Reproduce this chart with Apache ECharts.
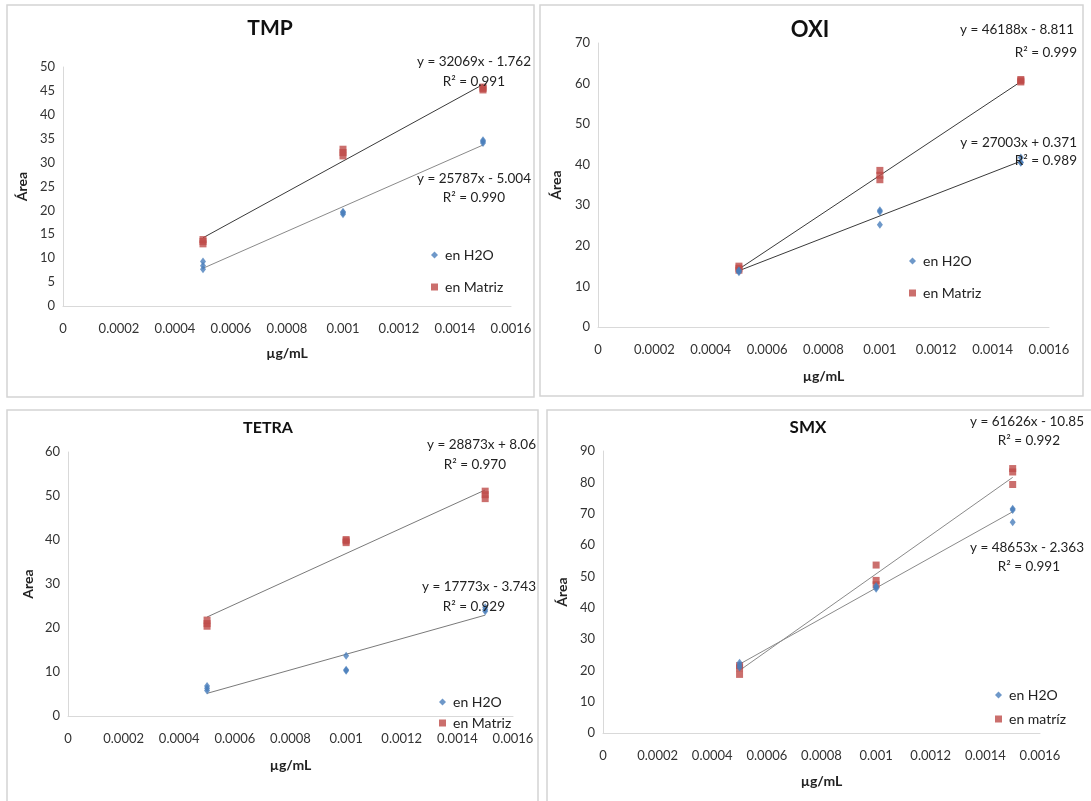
<!DOCTYPE html>
<html>
<head>
<meta charset="utf-8">
<script src="https://cdn.jsdelivr.net/npm/echarts@6/dist/echarts.min.js"></script>
<style>
html,body{margin:0;padding:0;background:#fff;}
#chart{width:1091px;height:801px;}
</style>
</head>
<body>
<div id="chart"></div>
<script>
// ---- DATA ----
const xTickValues = [0, 0.0002, 0.0004, 0.0006, 0.0008, 0.001, 0.0012, 0.0014, 0.0016];
const conc = [0.0005, 0.0005, 0.0005, 0.001, 0.001, 0.001, 0.0015, 0.0015, 0.0015];
const panelTitles = ['TMP', 'OXI', 'TETRA', 'SMX'];
const yAxisTitles = ['Área', 'Área', 'Area', 'Área'];
const xAxisTitle = 'µg/mL';
const legendH2O = 'en H2O';
const legendMatriz = ['en Matriz', 'en Matriz', 'en Matriz', 'en matríz'];
const yMax = [50, 70, 60, 90];
const yInterval = [5, 10, 10, 10];

const tmpH2O    = [9.3, 8.4, 7.7, 19.2, 19.5, 19.7, 34.1, 34.4, 34.7];
const tmpMatriz = [13.0, 13.5, 13.9, 31.4, 32.1, 32.8, 45.2, 45.5, 45.8];
const oxiH2O    = [13.5, 13.8, 14.0, 28.4, 28.8, 25.2, 40.5, 40.6, 41.8];
const oxiMatriz = [14.0, 14.5, 15.0, 36.3, 37.4, 38.6, 60.4, 60.7, 61.0];
const tetraH2O    = [5.8, 6.3, 6.8, 13.7, 10.3, 10.5, 23.8, 24.2, 24.7];
const tetraMatriz = [20.4, 21.0, 21.8, 39.4, 39.8, 40.1, 49.4, 50.3, 51.1];
const smxH2O    = [22.4, 21.6, 20.9, 46.0, 46.5, 46.9, 71.6, 71.2, 67.3];
const smxMatriz = [21.5, 20.8, 18.7, 53.6, 48.7, 47.3, 84.4, 83.3, 79.3];

// trendline coefficients [slope, intercept] and R²
const fitH2O    = [[25787, -5.004], [27003, 0.371], [17773, -3.743], [48653, -2.363]];
const fitMatriz = [[32069, -1.762], [46188, -8.811], [28873, 8.06], [61626, -10.85]];
const r2H2O    = ['0.990', '0.989', '0.929', '0.991'];
const r2Matriz = ['0.991', '0.999', '0.970', '0.992'];
const eqH2O    = ['y = 25787x - 5.004', 'y = 27003x + 0.371', 'y = 17773x - 3.743', 'y = 48653x - 2.363'];
const eqMatriz = ['y = 32069x - 1.762', 'y = 46188x - 8.811', 'y = 28873x + 8.06', 'y = 61626x - 10.85'];
const trendRange = [0.0005, 0.0015];

// ---- LAYOUT ----
const H2O_COLOR = '#4A7EBB';
const MAT_COLOR = '#BE4B48';
const FONT = 'Lato, "Liberation Sans", sans-serif';
const grids = [
  {left: 63, top: 67, width: 448, height: 239},
  {left: 598, top: 43, width: 451, height: 284},
  {left: 68, top: 452, width: 445, height: 264},
  {left: 603, top: 451, width: 437, height: 282}
];
const yNameGap = [34, 35, 33, 34];
const xNameGap = [40, 42, 42, 41];
const trendColors = [['#8a8a8a', '#3a3a3a'], ['#3a3a3a', '#3a3a3a'], ['#7a7a7a', '#7a7a7a'], ['#8a8a8a', '#8a8a8a']];
const borders = [
  {x: 7, y: 5, width: 527, height: 392},
  {x: 540, y: 5, width: 543, height: 391},
  {x: 7, y: 410, width: 531, height: 400},
  {x: 547, y: 410, width: 550, height: 400}
];
const titlePos = [[270, 28, 21], [810, 30, 22], [268, 428, 16], [808, 428, 17]];
const legendPos = [[426, 243, 18], [904, 249, 18], [434, 690, 7], [990, 683, 10]];
const eqPos = [
  // [eqMatriz right x, y, R2 right x, y, eqH2O right x, y, R2 right x, y]
  [531, 62, 505, 82, 531, 179, 505, 198],
  [1074, 30, 1077, 53, 1077, 143, 1077, 161],
  [536, 445, 506, 465, 536, 587, 505, 607],
  [1084, 422, 1060, 441, 1084, 548, 1060, 567]
];

const h2oSets = [tmpH2O, oxiH2O, tetraH2O, smxH2O];
const matSets = [tmpMatriz, oxiMatriz, tetraMatriz, smxMatriz];

const option = {
  backgroundColor: '#fff',
  animation: false,
  grid: grids,
  xAxis: [], yAxis: [], series: [], legend: [], graphic: []
};

function fmt(v) { return String(parseFloat(Number(v).toFixed(4))); }

for (let i = 0; i < 4; i++) {
  option.xAxis.push({
    type: 'value', gridIndex: i, min: 0, max: 0.0016, interval: 0.0002,
    axisLine: {show: true, onZero: false, lineStyle: {color: '#D9D9D9', width: 1}},
    axisTick: {show: false}, splitLine: {show: false},
    axisLabel: {margin: 16, color: '#333', fontSize: 13, fontFamily: FONT, formatter: fmt},
    name: xAxisTitle, nameLocation: 'middle', nameGap: xNameGap[i],
    nameTextStyle: {fontWeight: 'bold', fontSize: 14, color: '#222', fontFamily: FONT}
  });
  option.yAxis.push({
    type: 'value', gridIndex: i, min: 0, max: yMax[i], interval: yInterval[i],
    axisLine: {show: true, lineStyle: {color: '#D9D9D9', width: 1}},
    axisTick: {show: false}, splitLine: {show: false},
    axisLabel: {margin: 8, color: '#333', fontSize: 13, fontFamily: FONT},
    name: yAxisTitles[i], nameLocation: 'middle', nameGap: yNameGap[i], nameRotate: 90,
    nameTextStyle: {fontWeight: 'bold', fontSize: 14, color: '#222', fontFamily: FONT}
  });
  const fits = [fitH2O[i], fitMatriz[i]];
  fits.forEach((f, k) => {
    option.series.push({
      type: 'line', xAxisIndex: i, yAxisIndex: i, silent: true,
      data: trendRange.map(x => [x, f[0] * x + f[1]]),
      showSymbol: false, symbol: 'none',
      lineStyle: {color: trendColors[i][k], width: 1}, z: 1
    });
  });
  option.series.push({
    name: legendH2O, type: 'scatter', xAxisIndex: i, yAxisIndex: i,
    symbol: 'diamond', symbolSize: [6, 8],
    itemStyle: {color: H2O_COLOR}, z: 3,
    data: conc.map((x, j) => [x, h2oSets[i][j]])
  });
  option.series.push({
    name: legendMatriz[i], type: 'scatter', xAxisIndex: i, yAxisIndex: i,
    symbol: 'rect', symbolSize: 7,
    itemStyle: {color: MAT_COLOR}, z: 2,
    data: conc.map((x, j) => [x, matSets[i][j]])
  });
  option.legend.push({
    orient: 'vertical', left: legendPos[i][0], top: legendPos[i][1], itemGap: legendPos[i][2],
    itemWidth: 7, itemHeight: 7, selectedMode: false,
    textStyle: {fontSize: 14, color: '#222', fontFamily: FONT, padding: [0, 0, 0, 2]},
    data: [{name: legendH2O, icon: 'diamond'}, {name: legendMatriz[i], icon: 'rect'}]
  });
  // panel border
  option.graphic.push({
    type: 'rect', shape: borders[i], silent: true, z: -1,
    style: {fill: 'none', stroke: '#D4D4D4', lineWidth: 1.5}
  });
  // panel title
  option.graphic.push({
    type: 'text', x: titlePos[i][0], y: titlePos[i][1],
    style: {text: panelTitles[i], align: 'center', verticalAlign: 'middle',
      font: 'bold ' + titlePos[i][2] + 'px ' + FONT, fill: '#111'}
  });
  const p = eqPos[i];
  const labels = [
    [eqMatriz[i], p[0], p[1]], ['R² = ' + r2Matriz[i], p[2], p[3]],
    [eqH2O[i], p[4], p[5]], ['R² = ' + r2H2O[i], p[6], p[7]]
  ];
  labels.forEach(l => option.graphic.push({
    type: 'text', x: l[1], y: l[2], z: 10,
    style: {text: l[0], align: 'right', verticalAlign: 'middle',
      font: '13.5px ' + FONT, fill: '#222'}
  }));
}

const chart = echarts.init(document.getElementById('chart'), null, {renderer: 'canvas'});
chart.setOption(option);
</script>
</body>
</html>
